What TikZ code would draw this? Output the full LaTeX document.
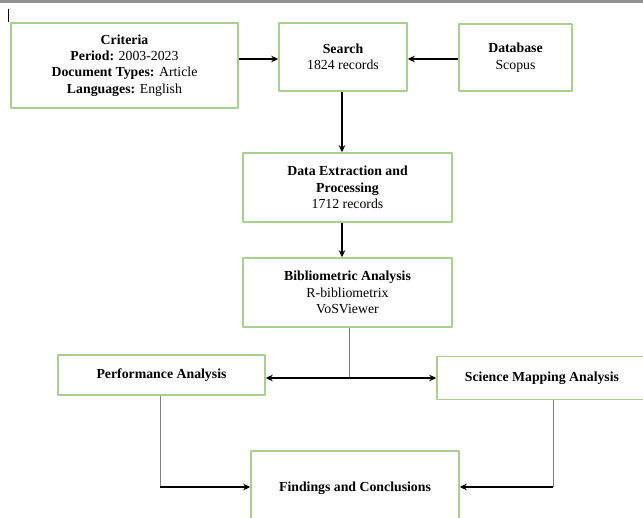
\documentclass[tikz,border=0pt]{standalone}
\usepackage{fontspec}
\setmainfont{Liberation Serif}
\usetikzlibrary{arrows.meta}
\definecolor{boxgreen}{RGB}{169,208,142}
\tikzset{
  stepbox/.style={draw=boxgreen,line width=1.5pt,fill=white,align=center,inner sep=2pt},
  link/.style={black,line width=1.4pt,->},
  feed/.style={gray,line width=1pt}
}
\begin{document}
\begin{tikzpicture}[x=1pt,y=-1pt,>={Stealth[length=7pt,width=6.5pt]}, font=\fontsize{13.8}{16.4}\selectfont, line join=round]
				\def\W{643} \def\H{518} % page
				\useasboundingbox (0,0) rectangle (\W,\H);
				\clip (0,0) rectangle (\W,\H);
				\fill[gray!85] (0,0) rectangle (\W,3);
				\draw[line width=1pt] (8,9)--(8,22);
				% boxes
				\node[stepbox,minimum width=227,minimum height=85] (crit) at (124.5,65.5) {\textbf{Criteria}\\ \textbf{Period:} 2003-2023\\ \textbf{Document Types:} Article\\ \textbf{Languages:} English};
				\node[stepbox,minimum width=128,minimum height=68] (search) at (343,57) {\textbf{Search}\\ 1824 records};
				\node[stepbox,minimum width=113,minimum height=67] (db) at (515.5,57.5) {\textbf{Database}\\ Scopus};
				\node[stepbox,minimum width=209,minimum height=69] (data) at (347.5,187.5) {\textbf{Data Extraction and}\\ \textbf{Processing}\\ 1712 records};
				\node[stepbox,minimum width=209,minimum height=69] (biblio) at (347.5,292.5) {\textbf{Bibliometric Analysis}\\ R-bibliometrix\\ VoSViewer};
				\node[stepbox,minimum width=207,minimum height=40] (perf) at (161.5,375) {\textbf{Performance Analysis}};
				\node[stepbox,minimum width=210,minimum height=43] (sci) at (542,378) {\textbf{Science Mapping Analysis}};
				\node[stepbox,minimum width=208,minimum height=74] (find) at (355,488) {\textbf{Findings and Conclusions}};
				% connectors
				\coordinate (split) at (349,378);
				\coordinate (sturn) at (553,487);
				\draw[link] (crit.east|-0,59)--(search.west|-0,59);
				\draw[link] (db.west|-0,59)--(search.east|-0,59);
				\draw[link] (search.south-|342,0)--(data.north-|342,0);
				\draw[link] (data.south-|342,0)--(biblio.north-|342,0);
				\draw[feed] (biblio.south-|split)--(split);
				\draw[link,<->] (split-|perf.east)--(split-|sci.west);
				\draw[feed] (perf.south-|160,0)--(160,487);
				\draw[link] (160,487)--(find.west|-sturn);
				\draw[feed] (sci.south-|sturn)--(sturn);
				\draw[link] (sturn)--(find.east|-sturn);
			\end{tikzpicture}
\end{document}
